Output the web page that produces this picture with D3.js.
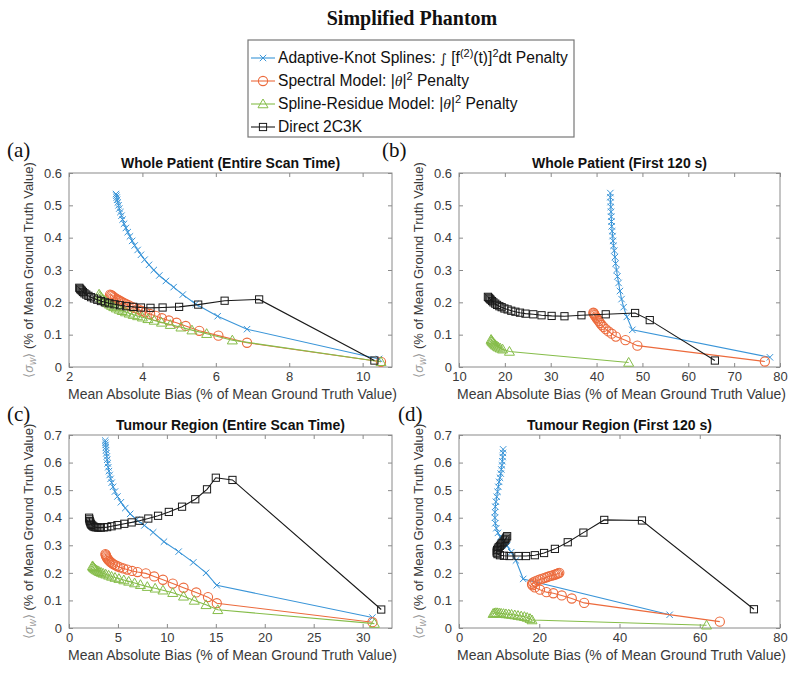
<!DOCTYPE html>
<html><head><meta charset="utf-8">
<script src="https://cdn.jsdelivr.net/npm/d3@7/dist/d3.min.js"></script>
<style>body{margin:0;background:#fff}svg{display:block}</style>
</head><body>
<svg id="chart" width="800" height="678"></svg>
<script>
// ---------------- DATA ----------------
const seriesNames = ["Adaptive-Knot Splines", "Spectral Model", "Spline-Residue Model", "Direct 2C3K"];
const panelTitles = ["Whole Patient (Entire Scan Time)", "Whole Patient (First 120 s)", "Tumour Region (Entire Scan Time)", "Tumour Region  (First 120 s)"];
const panelLetters = ["(a)", "(b)", "(c)", "(d)"];

// panel (a)
const aBlueX = [3.28,3.29,3.30,3.31,3.33,3.35,3.37,3.40,3.43,3.46,3.50,3.55,3.60,3.66,3.72,3.79,3.87,3.96,4.06,4.18,4.31,4.46,4.64,4.85,5.10,5.45,6.05,6.85,10.45];
const aBlueY = [0.535,0.530,0.524,0.517,0.509,0.500,0.490,0.479,0.468,0.456,0.443,0.430,0.417,0.404,0.390,0.376,0.362,0.347,0.332,0.316,0.300,0.283,0.266,0.247,0.224,0.195,0.157,0.117,0.025];
const aOrangeX = [3.12,3.15,3.18,3.21,3.25,3.29,3.33,3.38,3.43,3.49,3.55,3.62,3.70,3.78,3.87,3.97,4.08,4.21,4.36,4.53,4.72,4.93,5.18,5.55,6.07,6.85,10.5];
const aOrangeY = [0.224,0.222,0.220,0.217,0.214,0.211,0.208,0.205,0.202,0.198,0.195,0.191,0.187,0.183,0.179,0.174,0.169,0.164,0.158,0.151,0.144,0.137,0.127,0.112,0.097,0.075,0.016];
const aGreenX = [2.82,2.85,2.88,2.92,2.96,3.00,3.05,3.10,3.16,3.22,3.29,3.37,3.45,3.54,3.64,3.75,3.87,4.00,4.15,4.32,4.52,4.76,5.05,5.35,5.75,6.45,10.5];
const aGreenY = [0.225,0.220,0.215,0.210,0.206,0.202,0.198,0.194,0.190,0.186,0.182,0.178,0.174,0.170,0.166,0.162,0.158,0.154,0.149,0.144,0.138,0.131,0.123,0.114,0.103,0.083,0.016];
const aBlackX = [2.28,2.30,2.32,2.35,2.38,2.42,2.47,2.53,2.60,2.68,2.77,2.87,2.98,3.10,3.24,3.39,3.56,3.75,3.96,4.22,4.55,5.00,5.52,6.24,7.18,10.32];
const aBlackY = [0.245,0.242,0.239,0.236,0.232,0.228,0.224,0.220,0.216,0.212,0.208,0.204,0.200,0.197,0.194,0.191,0.188,0.186,0.184,0.183,0.184,0.186,0.193,0.205,0.209,0.020];

// panel (b)
const bBlueX = [43.0,43.0,43.05,43.1,43.15,43.2,43.25,43.3,43.4,43.5,43.6,43.7,43.85,44.0,44.15,44.35,44.55,44.8,45.1,45.45,45.9,46.6,47.8,77.8];
const bBlueY = [0.538,0.525,0.510,0.495,0.480,0.465,0.450,0.435,0.420,0.405,0.390,0.375,0.360,0.340,0.320,0.300,0.280,0.260,0.235,0.210,0.185,0.155,0.115,0.030];
const bOrangeX = [39.3,39.4,39.5,39.6,39.8,40.0,40.2,40.5,40.8,41.1,41.5,42.0,42.6,43.3,44.2,46.3,48.9,76.7];
const bOrangeY = [0.168,0.166,0.163,0.160,0.156,0.152,0.147,0.142,0.136,0.130,0.124,0.117,0.110,0.103,0.094,0.083,0.066,0.017];
const bGreenX = [17.0,17.1,17.2,17.4,17.6,17.8,18.0,18.3,18.6,19.0,19.5,21.0,47.0];
const bGreenY = [0.085,0.082,0.079,0.076,0.073,0.070,0.067,0.064,0.061,0.058,0.055,0.048,0.014];
const bBlackX = [16.3,16.5,16.7,16.9,17.2,17.5,17.9,18.3,18.8,19.3,19.9,20.6,21.4,22.3,23.3,24.5,26.2,28.0,30.2,33.0,36.7,42.0,48.4,51.6,65.8];
const bBlackY = [0.217,0.214,0.211,0.208,0.204,0.200,0.196,0.192,0.188,0.185,0.181,0.178,0.174,0.171,0.168,0.165,0.163,0.160,0.158,0.157,0.160,0.163,0.167,0.145,0.020];

// panel (c)
const cBlueX = [3.70,3.72,3.74,3.76,3.79,3.82,3.86,3.90,3.95,4.01,4.08,4.16,4.25,4.36,4.50,4.70,4.95,5.3,5.75,6.25,6.9,7.7,8.6,9.7,11.2,12.7,14.0,15.1,31.0];
const cBlueY = [0.680,0.672,0.664,0.655,0.645,0.634,0.622,0.610,0.597,0.583,0.569,0.555,0.541,0.527,0.512,0.495,0.477,0.456,0.435,0.414,0.393,0.372,0.347,0.313,0.277,0.238,0.200,0.155,0.038];
const cOrangeX = [3.72,3.76,3.80,3.86,3.92,4.0,4.1,4.22,4.36,4.52,4.72,4.95,5.22,5.55,5.95,6.45,7.0,7.85,8.7,9.6,10.6,11.7,13.0,14.2,15.1,31.0];
const cOrangeY = [0.268,0.264,0.260,0.256,0.252,0.248,0.244,0.240,0.236,0.232,0.228,0.224,0.220,0.216,0.212,0.207,0.203,0.198,0.187,0.175,0.161,0.146,0.129,0.112,0.090,0.021];
const cGreenX = [2.40,2.45,2.52,2.60,2.70,2.82,2.96,3.12,3.30,3.50,3.75,4.05,4.35,4.70,5.10,5.60,6.10,6.70,7.30,8.00,8.80,9.60,10.6,11.7,12.8,14.0,15.2,31.2];
const cGreenY = [0.225,0.222,0.219,0.216,0.213,0.210,0.207,0.204,0.201,0.198,0.195,0.191,0.187,0.183,0.179,0.174,0.169,0.163,0.157,0.150,0.144,0.137,0.128,0.115,0.100,0.084,0.066,0.016];
const cBlackX = [2.05,2.08,2.12,2.17,2.23,2.30,2.39,2.50,2.63,2.80,3.00,3.25,3.55,3.90,4.35,4.95,5.65,6.40,7.20,8.10,9.10,10.2,11.55,12.9,14.1,15.0,16.7,31.9];
const cBlackY = [0.400,0.394,0.388,0.383,0.378,0.374,0.371,0.368,0.366,0.365,0.364,0.364,0.365,0.366,0.369,0.373,0.378,0.383,0.389,0.397,0.407,0.421,0.440,0.467,0.503,0.545,0.537,0.067];

// panel (d)
const dBlueX = [11.0,10.95,10.9,10.8,10.7,10.55,10.4,10.2,10.0,9.8,9.6,9.4,9.2,9.05,8.95,8.95,9.05,9.3,9.7,10.3,11.1,12.0,13.0,14.2,16.0,52.5];
const dBlueY = [0.648,0.635,0.620,0.605,0.590,0.575,0.560,0.545,0.530,0.512,0.494,0.476,0.458,0.440,0.420,0.400,0.380,0.362,0.345,0.330,0.315,0.298,0.275,0.245,0.178,0.048];
const dOrangeX = [25.0,24.7,24.4,24.0,23.6,23.1,22.6,22.0,21.4,20.8,20.2,19.6,19.0,18.5,18.2,18.3,18.9,20.2,21.8,23.5,25.6,28.1,31.2,65.0];
const dOrangeY = [0.200,0.198,0.196,0.194,0.192,0.190,0.188,0.185,0.182,0.179,0.176,0.173,0.169,0.165,0.160,0.155,0.147,0.139,0.130,0.126,0.118,0.107,0.091,0.023];
const dGreenX = [8.5,8.8,9.1,9.5,10.0,10.5,11.1,11.7,12.4,13.1,13.9,14.7,15.5,16.3,17.0,17.7,18.2,61.7];
const dGreenY = [0.052,0.054,0.055,0.055,0.054,0.053,0.052,0.051,0.050,0.049,0.047,0.045,0.043,0.041,0.038,0.034,0.029,0.010];
const dBlackX = [12.0,11.8,11.6,11.4,11.1,10.8,10.5,10.2,9.9,9.7,9.5,9.4,9.4,9.6,10.2,11.2,12.6,14.8,16.7,18.9,21.2,23.9,27.1,31.0,36.2,45.6,73.5];
const dBlackY = [0.333,0.328,0.323,0.318,0.313,0.308,0.303,0.298,0.293,0.288,0.283,0.278,0.273,0.268,0.264,0.262,0.261,0.261,0.261,0.264,0.272,0.287,0.311,0.346,0.392,0.390,0.068];

// axes ticks / limits
const aXTicks = [2,4,6,8,10];           const aXLim = [2,10.8];
const bXTicks = [10,20,30,40,50,60,70,80]; const bXLim = [10,80];
const cXTicks = [0,5,10,15,20,25,30];   const cXLim = [0,33];
const dXTicks = [0,20,40,60,80];        const dXLim = [0,80];
const topYTicks = [0,0.1,0.2,0.3,0.4,0.5,0.6]; const topYLim = [0,0.6];
const botYTicks = [0,0.1,0.2,0.3,0.4,0.5,0.6,0.7]; const botYLim = [0,0.7];

// ---------------- STYLE ----------------
const colors = ["#3a95d8", "#ec6a3c", "#86bd4a", "#1a1a1a"];
const markers = ["x", "o", "^", "s"];
const axisColor = "#8a8a8a";
const textColor = "#3a3a3a";
const sansFont = "Liberation Sans, Arial, Helvetica, sans-serif";
const serifFont = "Liberation Serif, Times New Roman, serif";

const svg = d3.select("#chart");

svg.append("text").attr("x", 412).attr("y", 25).attr("text-anchor", "middle")
  .attr("font-family", serifFont).attr("font-weight", "bold").attr("font-size", 20)
  .attr("fill", "#111").text("Simplified Phantom");

function drawMarker(g, type, x, y, color) {
  if (type === "x") {
    const s = 3.2;
    g.append("path").attr("d", `M${x-s},${y-s}L${x+s},${y+s}M${x-s},${y+s}L${x+s},${y-s}`)
      .attr("stroke", color).attr("stroke-width", 1).attr("fill", "none");
  } else if (type === "o") {
    g.append("circle").attr("cx", x).attr("cy", y).attr("r", 4.6)
      .attr("stroke", color).attr("stroke-width", 1.1).attr("fill", "none");
  } else if (type === "^") {
    const s = 5;
    g.append("path").attr("d", `M${x},${y-s}L${x+s},${y+s*0.75}L${x-s},${y+s*0.75}Z`)
      .attr("stroke", color).attr("stroke-width", 1).attr("fill", "none");
  } else if (type === "s") {
    const s = 3.6;
    g.append("rect").attr("x", x-s).attr("y", y-s).attr("width", 2*s).attr("height", 2*s)
      .attr("stroke", color).attr("stroke-width", 1).attr("fill", "none");
  }
}

const panels = [
  {box: [69, 392, 173, 367], xLim: aXLim, xTicks: aXTicks, yLim: topYLim, yTicks: topYTicks,
   series: [[aBlueX,aBlueY],[aOrangeX,aOrangeY],[aGreenX,aGreenY],[aBlackX,aBlackY]], letterPos: [7, 157]},
  {box: [459, 780, 173, 367], xLim: bXLim, xTicks: bXTicks, yLim: topYLim, yTicks: topYTicks,
   series: [[bBlueX,bBlueY],[bOrangeX,bOrangeY],[bGreenX,bGreenY],[bBlackX,bBlackY]], letterPos: [382, 157]},
  {box: [69, 392, 435, 628], xLim: cXLim, xTicks: cXTicks, yLim: botYLim, yTicks: botYTicks,
   series: [[cBlueX,cBlueY],[cOrangeX,cOrangeY],[cGreenX,cGreenY],[cBlackX,cBlackY]], letterPos: [7, 421]},
  {box: [459, 780, 435, 628], xLim: dXLim, xTicks: dXTicks, yLim: botYLim, yTicks: botYTicks,
   series: [[dBlueX,dBlueY],[dOrangeX,dOrangeY],[dGreenX,dGreenY],[dBlackX,dBlackY]], letterPos: [398, 421]}
];

panels.forEach((p, pi) => {
  const [x0, x1, y0, y1] = p.box;
  const xs = d3.scaleLinear().domain(p.xLim).range([x0, x1]);
  const ys = d3.scaleLinear().domain(p.yLim).range([y1, y0]);
  const g = svg.append("g");

  g.append("rect").attr("x", x0).attr("y", y0).attr("width", x1-x0).attr("height", y1-y0)
    .attr("fill", "#fff");

  const styleAxis = sel => {
    sel.select(".domain").remove();
    sel.selectAll(".tick line").attr("stroke", axisColor);
    sel.selectAll(".tick text").attr("fill", textColor).attr("font-family", sansFont).attr("font-size", 13);
  };
  g.append("g").attr("transform", `translate(0,${y1})`)
    .call(d3.axisBottom(xs).tickValues(p.xTicks).tickSizeInner(-4).tickSizeOuter(0).tickPadding(5).tickFormat(d3.format("")))
    .call(styleAxis);
  g.append("g").attr("transform", `translate(0,${y0})`)
    .call(d3.axisTop(xs).tickValues(p.xTicks).tickSizeInner(-4).tickSizeOuter(0).tickFormat(""))
    .call(styleAxis);
  g.append("g").attr("transform", `translate(${x0},0)`)
    .call(d3.axisLeft(ys).tickValues(p.yTicks).tickSizeInner(-4).tickSizeOuter(0).tickPadding(7).tickFormat(d3.format("")))
    .call(styleAxis);
  g.append("g").attr("transform", `translate(${x1},0)`)
    .call(d3.axisRight(ys).tickValues(p.yTicks).tickSizeInner(-4).tickSizeOuter(0).tickFormat(""))
    .call(styleAxis);

  g.append("rect").attr("x", x0).attr("y", y0).attr("width", x1-x0).attr("height", y1-y0)
    .attr("fill", "none").attr("stroke", axisColor).attr("stroke-width", 1);

  const line = d3.line().x(d => xs(d[0])).y(d => ys(d[1]));
  p.series.forEach((s, si) => {
    const pts = s[0].map((x, i) => [x, s[1][i]]);
    const sg = g.append("g");
    sg.append("path").attr("d", line(pts)).attr("fill", "none")
      .attr("stroke", colors[si]).attr("stroke-width", 1.1);
    pts.forEach(d => drawMarker(sg, markers[si], xs(d[0]), ys(d[1]), colors[si]));
  });

  g.append("text").attr("x", (x0+x1)/2).attr("y", y0-5).attr("text-anchor", "middle")
    .attr("font-family", sansFont).attr("font-weight", "bold").attr("font-size", 14)
    .attr("fill", "#111").text(panelTitles[pi]);

  g.append("text").attr("x", (x0+x1)/2 + 2).attr("y", y1+32).attr("text-anchor", "middle")
    .attr("font-family", sansFont).attr("font-size", 14).attr("fill", textColor)
    .text("Mean Absolute Bias (% of Mean Ground Truth Value)");

  const yl = g.append("text").attr("transform", `translate(${x0-36},${(y0+y1)/2}) rotate(-90)`)
    .attr("text-anchor", "middle").attr("font-family", sansFont).attr("font-size", 13).attr("fill", textColor);
  yl.append("tspan").attr("fill", "#9a9a9a").text("\u27E8");
  yl.append("tspan").attr("fill", "#9a9a9a").attr("font-style", "italic").text("\u03C3");
  yl.append("tspan").attr("fill", "#9a9a9a").attr("font-style", "italic").attr("font-size", 10).attr("dy", 3).text("w");
  yl.append("tspan").attr("fill", "#9a9a9a").attr("dy", -3).text("\u27E9");
  yl.append("tspan").text(" (% of Mean Ground Truth Value)");

  svg.append("text").attr("x", p.letterPos[0]).attr("y", p.letterPos[1])
    .attr("font-family", serifFont).attr("font-size", 21).attr("fill", "#111").text(panelLetters[pi]);
});

// ---------------- LEGEND ----------------
const lg = svg.append("g");
lg.append("rect").attr("x", 248).attr("y", 40).attr("width", 326).attr("height", 97)
  .attr("fill", "#fff").attr("stroke", "#777").attr("stroke-width", 1.2);
const legendRows = [63, 86, 109, 132];
legendRows.forEach((yy, i) => {
  const cy = yy - 5;
  lg.append("line").attr("x1", 251).attr("x2", 275).attr("y1", cy).attr("y2", cy)
    .attr("stroke", colors[i]).attr("stroke-width", 1.1);
  drawMarker(lg, markers[i], 263, cy, colors[i]);
});
const lfs = 15.6;
function legendText(y) {
  return lg.append("text").attr("x", 278).attr("y", y).attr("font-family", sansFont)
    .attr("font-size", lfs).attr("fill", "#111");
}
let t = legendText(legendRows[0]);
t.append("tspan").text("Adaptive-Knot Splines: ");
t.append("tspan").attr("font-family", "DejaVu Sans").attr("font-style", "italic").attr("font-size", 13).text("\u222B");
t.append("tspan").text(" [f");
t.append("tspan").attr("font-size", 11).attr("dy", -6).text("(2)");
t.append("tspan").attr("dy", 6).text("(t)]");
t.append("tspan").attr("font-size", 11).attr("dy", -6).text("2");
t.append("tspan").attr("dy", 6).text("dt Penalty");

t = legendText(legendRows[1]);
t.append("tspan").text("Spectral Model: |");
t.append("tspan").attr("font-family", serifFont).attr("font-style", "italic").text("\u03B8");
t.append("tspan").text("|");
t.append("tspan").attr("font-size", 11).attr("dy", -6).text("2");
t.append("tspan").attr("dy", 6).text(" Penalty");

t = legendText(legendRows[2]);
t.append("tspan").text("Spline-Residue Model: |");
t.append("tspan").attr("font-family", serifFont).attr("font-style", "italic").text("\u03B8");
t.append("tspan").text("|");
t.append("tspan").attr("font-size", 11).attr("dy", -6).text("2");
t.append("tspan").attr("dy", 6).text(" Penalty");

t = legendText(legendRows[3]);
t.append("tspan").text("Direct 2C3K");
</script>
</body></html>
